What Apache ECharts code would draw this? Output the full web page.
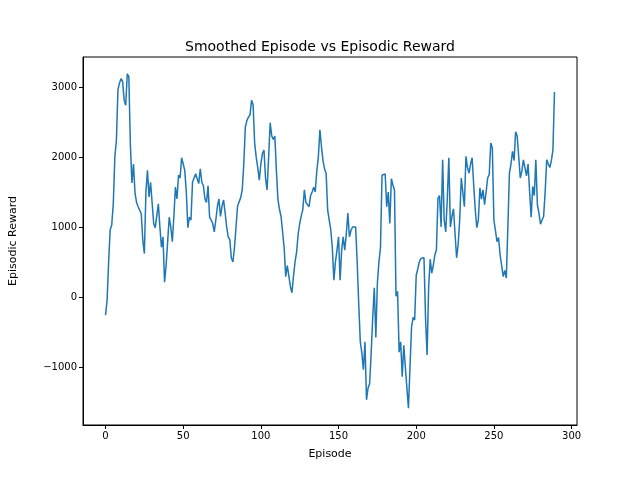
<!DOCTYPE html>
<html>
<head>
<meta charset="utf-8">
<script src="https://cdn.jsdelivr.net/npm/echarts@6/dist/echarts.min.js"></script>
<style>html,body{margin:0;padding:0;background:#fff}#container{width:640px;height:480px}</style>
</head>
<body>
<div id="container"></div>
<script>
var rewards = [
  -260, -50, 500, 960, 1030, 1330, 2000, 2240, 2960, 3060,
  3120, 3080, 2810, 2740, 3190, 3150, 2180, 1630, 1900, 1480,
  1350, 1290, 1240, 1190, 810, 620, 1500, 1810, 1430, 1640,
  1620, 1050, 990, 1000, 1330, 1000, 710, 860, 210, 450,
  470, 1140, 1000, 790, 1150, 1570, 1400, 1740, 1700, 1990,
  1900, 1810, 1500, 990, 1140, 1100, 1640, 1660, 1760, 1780,
  1620, 1830, 1640, 1590, 1400, 1350, 1590, 1140, 1100, 1050,
  930, 1100, 1290, 1400, 1150, 1300, 1386, 1200, 1000, 857,
  820, 557, 500, 700, 1000, 1300, 1314, 1420, 1530, 1900,
  2430, 2520, 2570, 2600, 2810, 2750, 2200, 2000, 1850, 1670,
  1900, 2050, 2100, 1700, 1530, 2000, 2490, 2300, 2250, 2300,
  1800, 1390, 1250, 1150, 1130, 700, 290, 450, 300, 150,
  60, 300, 500, 640, 900, 1050, 1160, 1250, 1530, 1350,
  1320, 1290, 1450, 1500, 1570, 1500, 1800, 2000, 2390, 2150,
  1950, 1830, 1770, 1240, 1100, 960, 700, 240, 500, 670,
  860, 240, 670, 860, 670, 900, 1200, 860, 950, 1000,
  980, 1000, 500, -100, -640, -800, -1040, -640, -1470, -1300,
  -1240, -800, -300, 130, -580, 200, 500, 710, 1740, 1720,
  1760, 1290, 1500, 1050, 1690, 1600, 1530, 10, 80, -790,
  -640, -1140, -690, -1000, -1300, -1590, -1000, -430, -290, -330,
  310, 400, 500, 550, 570, 560, -300, -830, 140, 540,
  340, 450, 600, 670, 1410, 1450, 1000, 1960, 1100, 930,
  1400, 1990, 1000, 1150, 1260, 900, 560, 750, 1100, 1700,
  1500, 1290, 2010, 1850, 1770, 1900, 1990, 1600, 1250, 990,
  1100, 1560, 1400, 1530, 1320, 1500, 1700, 1750, 2200, 2130,
  1100, 950, 790, 850, 600, 450, 290, 380, 270, 1000,
  1770, 1900, 2080, 1950, 2360, 2300, 2000, 1700, 1800, 1960,
  1850, 1730, 1900, 1500, 1140, 1580, 1450, 1960, 1320, 1200,
  1040, 1100, 1150, 1500, 1960, 1900, 1850, 1950, 2100, 2930
];
var xTicks = [0, 50, 100, 150, 200, 250, 300];
var yTicks = [-1000, 0, 1000, 2000, 3000];

var points = rewards.map(function (v, i) { return [i, v]; });
var font = 'DejaVu Sans';
var myChart = echarts.init(document.getElementById('container'));
var option = {
    animation: false,
    title: {
        text: 'Smoothed Episode vs Episodic Reward',
        left: 'center', top: 35,
        textStyle: { fontFamily: font, fontSize: 14, fontWeight: 'normal', color: '#000' }
    },
    grid: { left: 80, right: 63, top: 57, bottom: 55, show: true, borderColor: '#000', borderWidth: 1 },
    xAxis: {
        type: 'value', min: -14.5, max: 303.5,
        name: 'Episode', nameLocation: 'middle', nameGap: 24,
        nameTextStyle: { fontFamily: font, fontSize: 11, color: '#000' },
        splitLine: { show: false },
        axisLine: { onZero: false, lineStyle: { color: '#000' } },
        axisTick: { inside: false, length: 4, lineStyle: { color: '#000' }, customValues: xTicks },
        axisLabel: { fontFamily: font, fontSize: 10, color: '#000', margin: 6, customValues: xTicks }
    },
    yAxis: {
        type: 'value', min: -1830, max: 3430,
        name: 'Episodic Reward', nameLocation: 'middle', nameGap: 64,
        nameTextStyle: { fontFamily: font, fontSize: 11, color: '#000' },
        splitLine: { show: false },
        axisLine: { show: true, onZero: false, lineStyle: { color: '#000' } },
        axisTick: { show: true, length: 4, lineStyle: { color: '#000' }, customValues: yTicks },
        axisLabel: { fontFamily: font, fontSize: 10, color: '#000', margin: 6,
            customValues: yTicks,
            formatter: function (v) { return v < 0 ? '\u2212' + Math.abs(v) : String(v); } }
    },
    series: [{
        type: 'line', data: points, showSymbol: false,
        lineStyle: { color: '#1f77b4', width: 1.5 }
    }]
};
myChart.setOption(option, true);
</script>
</body>
</html>
